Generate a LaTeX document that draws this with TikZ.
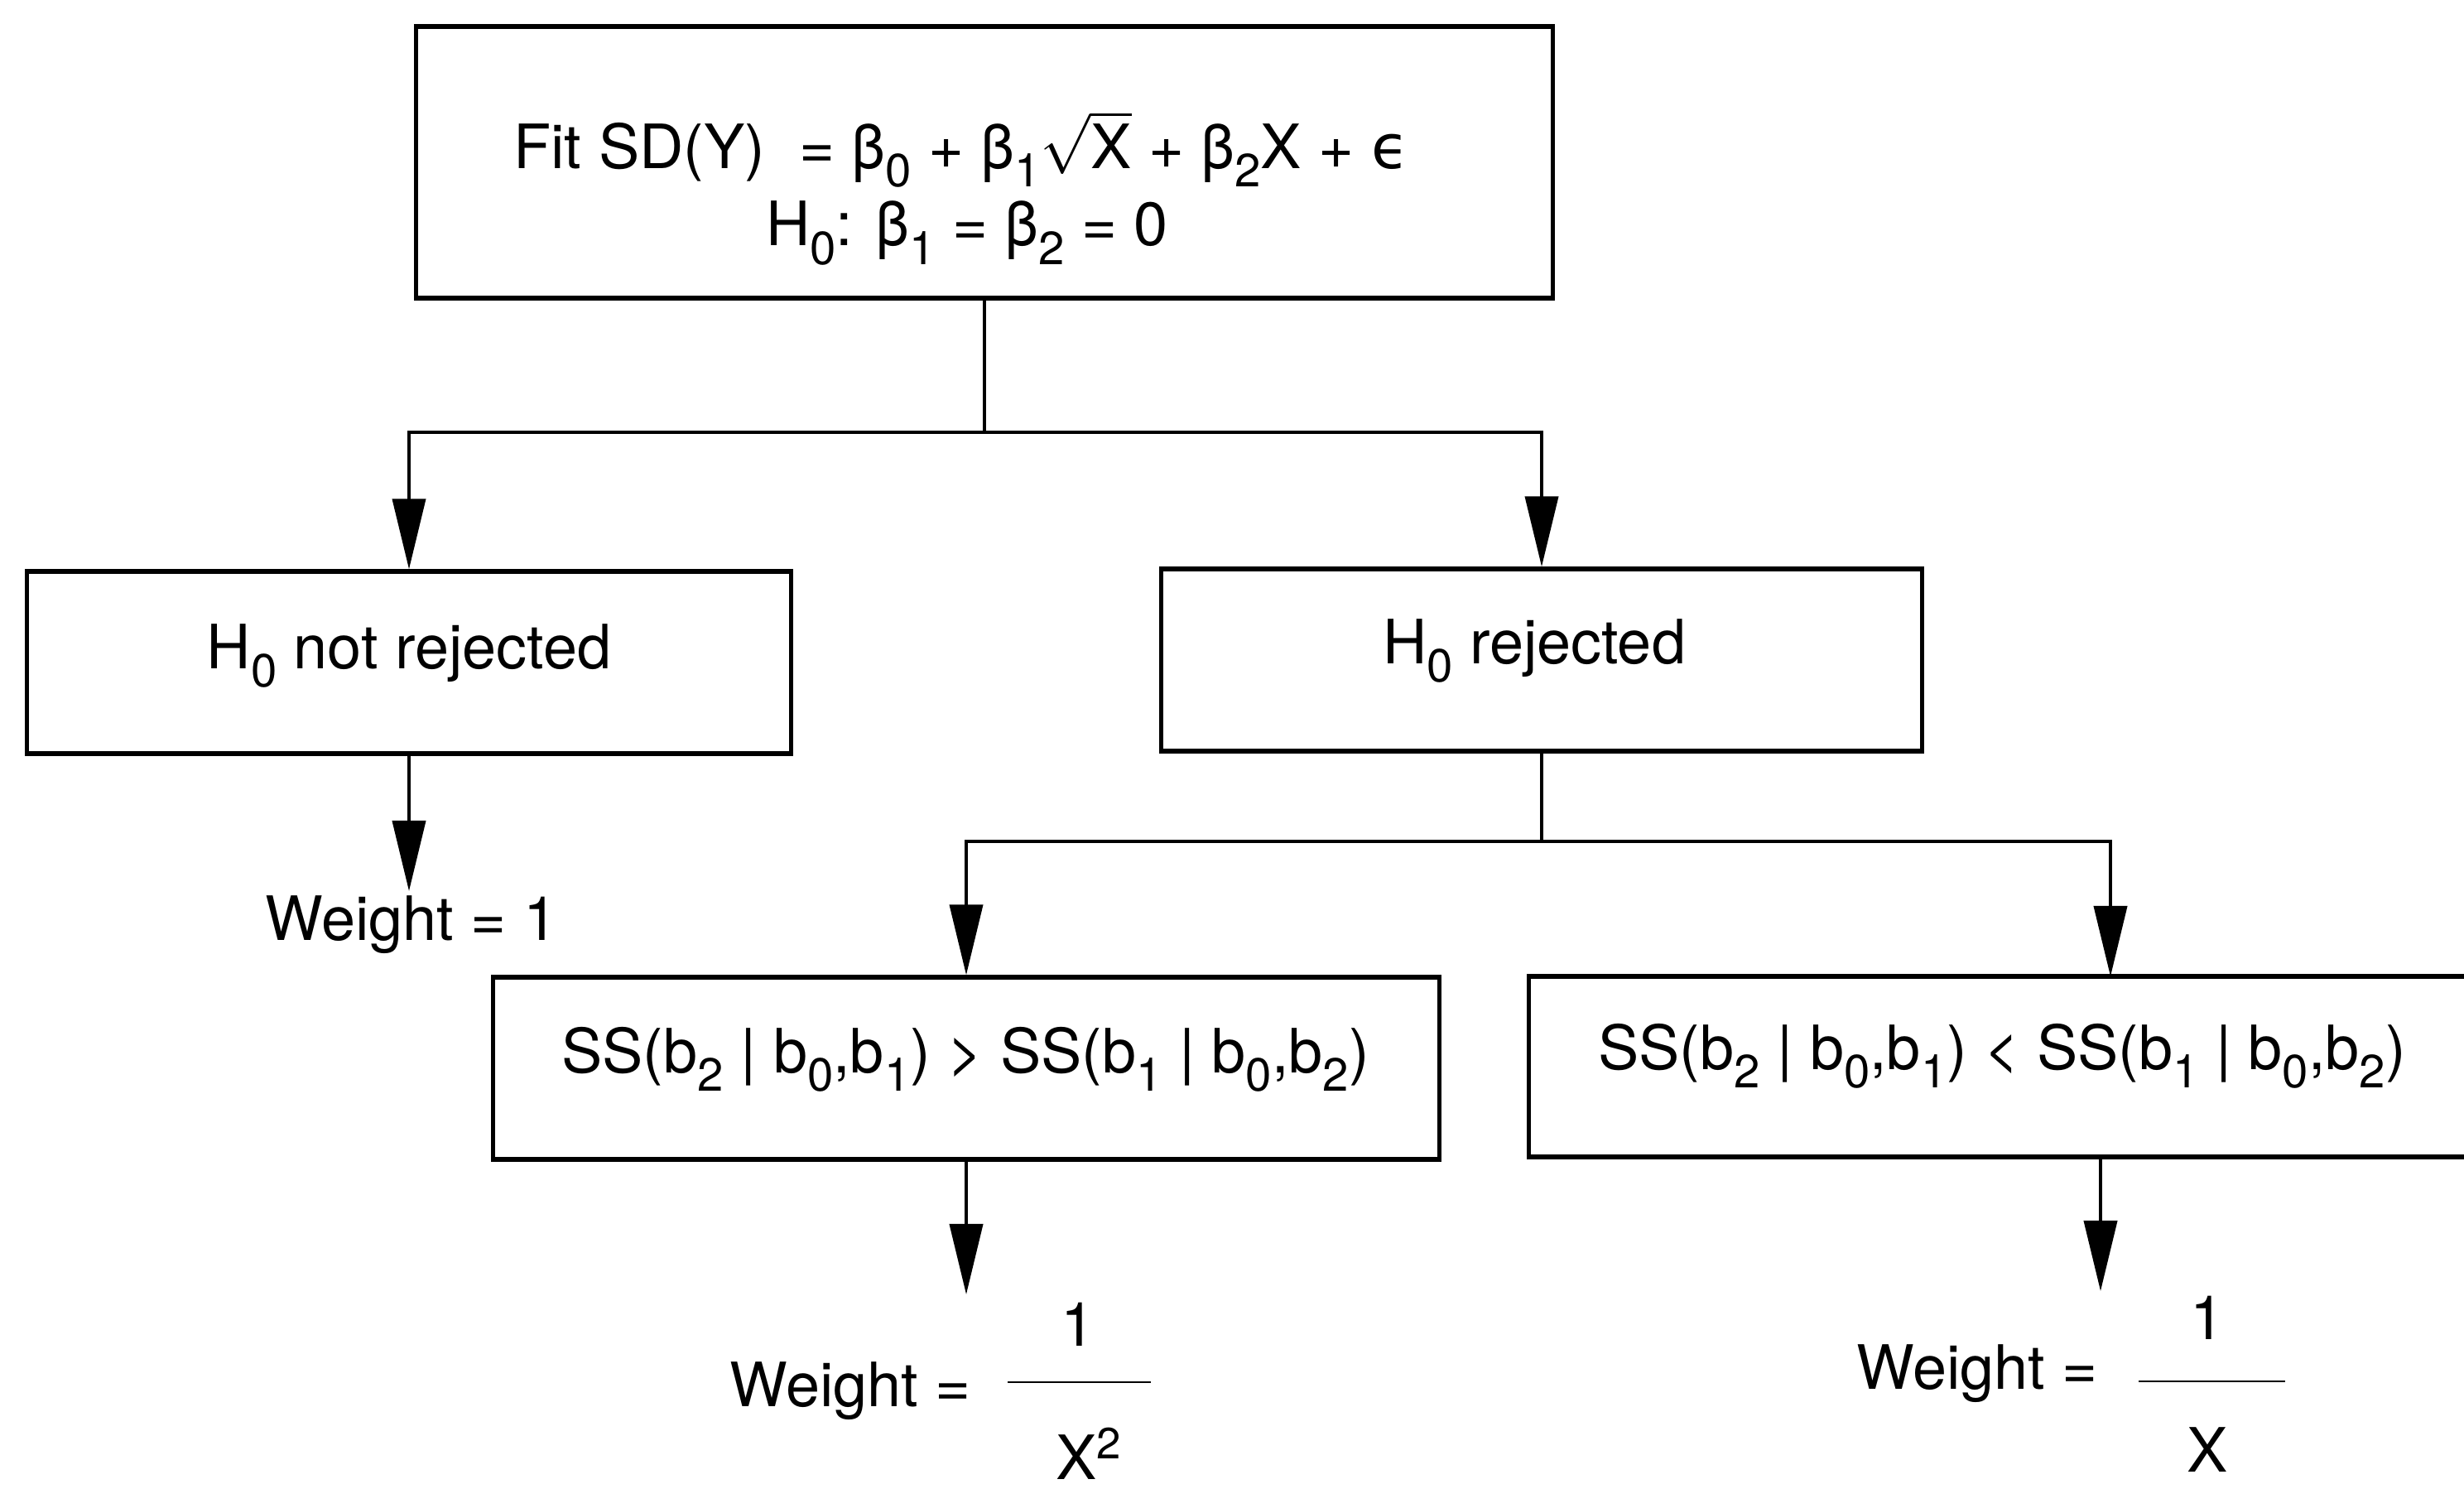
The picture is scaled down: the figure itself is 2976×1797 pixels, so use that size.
\documentclass[tikz,border=0pt]{standalone}
\usepackage{fontspec}
\setmainfont{TeX Gyre Heros}
\newfontfamily\dejavu{DejaVu Sans}
\usetikzlibrary{arrows.meta,calc}
\newcommand{\lowsub}[1]{\raisebox{-6.5pt}{\fontsize{16pt}{16pt}\selectfont #1}}
\newcommand{\hisup}[1]{\raisebox{7pt}{\fontsize{15pt}{15pt}\selectfont #1}}
\begin{document}
\begin{tikzpicture}[x=0.01cm,y=-0.01cm,
  box/.style={draw, line width=1.5pt, inner sep=0pt, rectangle},
  txt/.style={inner sep=0pt, font=\fontsize{21pt}{25pt}\selectfont},
  conn/.style={line width=1.1pt},
  arr/.style={conn, -{Triangle[length=0.85cm,width=0.4cm]}},
  bar/.style={line width=0.8pt}]
\useasboundingbox (0,0) rectangle (2976,1797);
\clip (0,0) rectangle (2976,1797);
% boxes
\node[box, minimum width=13.72cm, minimum height=3.28cm] (top) at (1189,196) {};
\node[txt, anchor=base] (t1) at (1161,203) {Fit SD(Y)\ \ = β\lowsub{0} + β\lowsub{1}$\sqrt{\hbox{X}}$ + β\lowsub{2}X + {\dejavu ϵ}};
\node[txt, anchor=base] (t2) at (1168,297) {H\lowsub{0}: β\lowsub{1} = β\lowsub{2} = 0};
\node[box, minimum width=9.23cm, minimum height=2.2cm] (nrej) at (494,800) {};
\node[txt, anchor=base] (nrejt) at (494,807) {H\lowsub{0} not rejected};
\node[box, minimum width=9.19cm, minimum height=2.2cm] (rej) at (1862,797) {};
\node[txt, anchor=base] (rejt) at (1853,801) {H\lowsub{0} rejected};
\node[box, minimum width=11.42cm, minimum height=2.2cm] (ssl) at (1167,1290) {};
\node[txt, anchor=base] (sslt) at (1166,1295) {SS(b\lowsub{2} | b\lowsub{0},b\lowsub{1}) > SS(b\lowsub{1} | b\lowsub{0},b\lowsub{2})};
\node[box, minimum width=11.42cm, minimum height=2.18cm] (ssr) at (2418,1288) {};
\node[txt, anchor=base] (ssrt) at (2418,1291) {SS(b\lowsub{2} | b\lowsub{0},b\lowsub{1}) < SS(b\lowsub{1} | b\lowsub{0},b\lowsub{2})};
% connectors
\coordinate (j1) at (1189,522);
\draw[conn] (top.south) -- (j1);
\draw[arr] (j1) -| (nrej.north);
\draw[arr] (j1) -| (rej.north);
\coordinate (j2) at (1862,1016);
\draw[conn] (rej.south) -- (j2);
\draw[arr] (j2) -| (ssl.north);
\coordinate (ssrin) at (2549,1179);
\draw[arr] (j2) -| (ssrin);
\coordinate (w1) at (494,1076);
\draw[arr] (nrej.south) -- (w1);
\coordinate (w2) at (1167,1563);
\draw[arr] (ssl.south) -- (w2);
\coordinate (ssrout) at (2537,1397);
\coordinate (w3) at (2537,1559);
\draw[arr] (ssrout) -- (w3);
% results
\node[txt, anchor=base west] (wt1) at (320,1135) {Weight = 1};
\node[txt, anchor=base west] (wt2) at (881,1698) {Weight =};
\node[txt, anchor=base] (n2) at (1302,1625) {1};
\coordinate (b2l) at (1217,1669); \coordinate (b2r) at (1390,1669);
\draw[bar] (b2l) -- (b2r);
\node[txt, anchor=base] (d2) at (1315,1786) {X\hisup{2}};
\node[txt, anchor=base west] (wt3) at (2242,1677) {Weight =};
\node[txt, anchor=base] (n3) at (2666,1617) {1};
\coordinate (b3l) at (2583,1668); \coordinate (b3r) at (2760,1668);
\draw[bar] (b3l) -- (b3r);
\node[txt, anchor=base] (d3) at (2666,1777) {X};
\end{tikzpicture}
\end{document}
